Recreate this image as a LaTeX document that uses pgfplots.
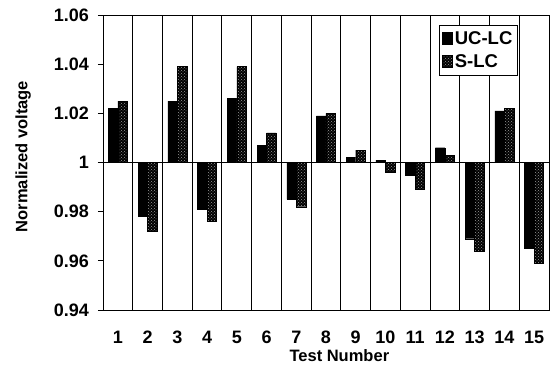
\documentclass[border=0pt]{standalone}
\usepackage{fontspec}
\setmainfont{Liberation Sans}
\usepackage{pgfplots}
\usepackage{pgfplotstable}
\pgfplotsset{compat=1.18}
\usetikzlibrary{patterns}
\pgfplotstableread{
test uc s
1 1.022 1.025
2 0.978 0.972
3 1.025 1.039
4 0.981 0.976
5 1.026 1.039
6 1.007 1.012
7 0.985 0.982
8 1.019 1.020
9 1.002 1.005
10 1.001 0.996
11 0.995 0.989
12 1.006 1.003
13 0.969 0.964
14 1.021 1.022
15 0.965 0.959
}\datatable
\begin{document}
\begin{tikzpicture}
\begin{axis}[
  name=ax,
  scale only axis,
  width=446pt, height=295pt,
  xmin=0.5, xmax=15.5,
  ymin=-0.06, ymax=0.06,
  ybar=0pt, bar width=9.5pt,
  xtick={1,...,15},
  xtick style={draw=none},
  ytick={-0.06,-0.04,-0.02,0,0.02,0.04,0.06},
  yticklabels={0.94,0.96,0.98,1,1.02,1.04,1.06},
  scaled y ticks=false,
  tick align=outside,
  major tick length=5pt,
  ytick style={black, line width=0.8pt},
  /pgf/number format/assume math mode=true,
  tick label style={font=\fontsize{18}{18}\selectfont\bfseries},
  yticklabel style={anchor=east, inner sep=0pt, xshift=-9pt},
  xticklabel style={anchor=base, inner sep=0pt, yshift=-29pt},
  extra x ticks={1.5,2.5,...,14.5},
  extra x tick labels={},
  extra x tick style={grid=major, major grid style={black, line width=1.1pt}, xtick style={draw=none}},
  extra y ticks={0},
  extra y tick labels={},
  extra y tick style={grid=major, major grid style={black, line width=1pt}},
  axis line style={black, line width=0.9pt},
  every axis y label/.style={at={(axis description cs:-0.179,0.52)}, rotate=90, anchor=center},
  every axis x label/.style={at={(axis description cs:0.53,-0.155)}, anchor=center, inner sep=0pt},
  label style={font=\fontsize{16.5}{16.5}\selectfont\bfseries},
  xlabel={Test Number},
  ylabel={Normalized voltage},
  legend style={at={(0.93,0.966)}, anchor=north east, draw=black, line width=0.8pt,
    font=\fontsize{18.5}{18.5}\selectfont\bfseries, inner xsep=3pt, inner ysep=4pt,
    row sep=5pt, cells={anchor=west}},
  legend image code/.code={\draw[#1, line width=0.4pt] (0pt,-5.5pt) rectangle (10pt,6.5pt);},
  legend cell align=left,
]
\addplot[draw=black, fill=black] table[x=test, y expr=\thisrow{uc}-1] {\datatable};
\addplot[draw=black, fill=black, postaction={pattern=crosshatch dots, pattern color=black!40}] table[x=test, y expr=\thisrow{s}-1] {\datatable};
\legend{UC-LC, S-LC}
\end{axis}
\pgfresetboundingbox
\path ([shift={(-103pt,-56pt)}]ax.south west) rectangle ([shift={(447pt,310pt)}]ax.south west);
\end{tikzpicture}
\end{document}
